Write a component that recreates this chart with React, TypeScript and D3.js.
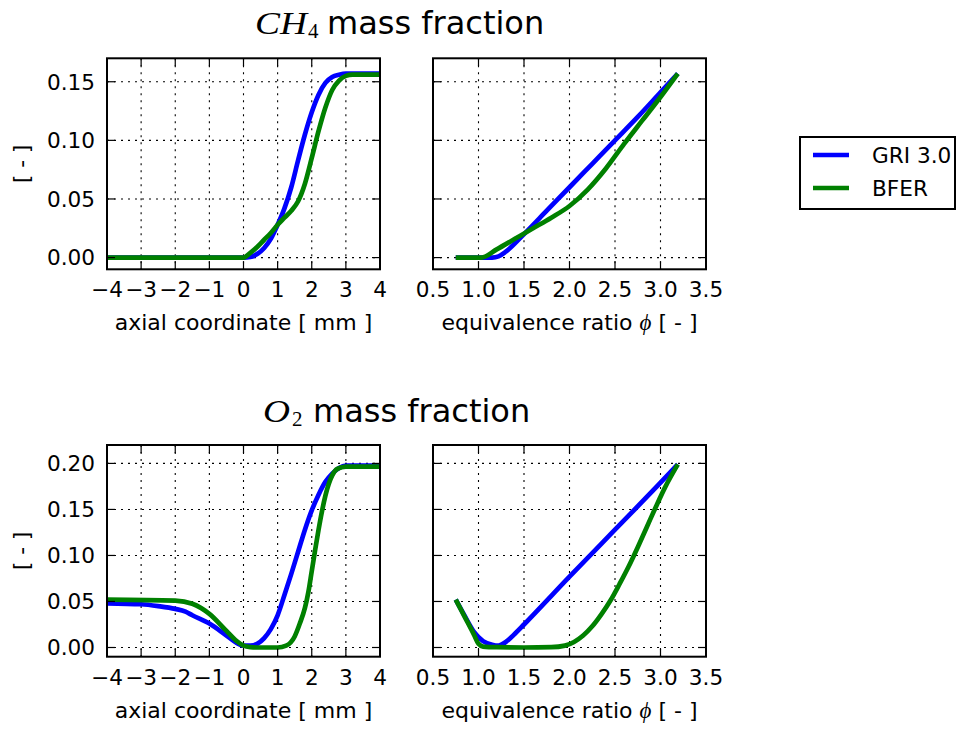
import React from "react";
import * as d3 from "d3";

// ---------- data ----------
const seriesNames = ["GRI 3.0", "BFER"];
const seriesColors = ["#0000ff", "#008000"];

const axialTicks = [-4, -3, -2, -1, 0, 1, 2, 3, 4];
const phiTicks = [0.5, 1.0, 1.5, 2.0, 2.5, 3.0, 3.5];
const ch4YTicks = [0, 0.05, 0.1, 0.15];
const o2YTicks = [0, 0.05, 0.1, 0.15, 0.2];

// CH4 vs axial coordinate
const ch4AxialX = [-4, -2, 0, 0.2, 0.4, 0.6, 0.8, 1.0, 1.2, 1.4, 1.6, 1.8, 2.0, 2.2, 2.4, 2.6, 2.8, 3.0, 3.2, 4];
const ch4AxialGri = [0, 0, 0, 0.0005, 0.003, 0.008, 0.016, 0.028, 0.042, 0.06, 0.083, 0.105, 0.124, 0.139, 0.149, 0.154, 0.156, 0.157, 0.157, 0.157];
const ch4AxialBfer = [0, 0, 0, 0.004, 0.009, 0.015, 0.021, 0.028, 0.034, 0.040, 0.048, 0.063, 0.085, 0.108, 0.128, 0.143, 0.151, 0.155, 0.156, 0.156];

// CH4 vs equivalence ratio
const ch4PhiGriX = [0.75, 1.0, 1.15, 1.22, 1.3, 1.5, 1.75, 2.0, 2.25, 2.5, 2.75, 3.0, 3.19];
const ch4PhiGri = [0, 0, 0, 0.001, 0.005, 0.02, 0.04, 0.06, 0.08, 0.1, 0.12, 0.141, 0.157];
const ch4PhiBferX = [0.75, 1.03, 1.2, 1.4, 1.6, 1.8, 2.0, 2.2, 2.4, 2.6, 2.8, 3.0, 3.19];
const ch4PhiBfer = [0, 0, 0.007, 0.016, 0.025, 0.034, 0.044, 0.058, 0.076, 0.097, 0.117, 0.137, 0.157];

// O2 vs axial coordinate
const o2AxialGriX = [-4, -3, -2.5, -2, -1.7, -1.5, -1, -0.5, -0.2, 0, 0.2, 0.4, 0.6, 0.8, 1.0, 1.2, 1.4, 1.6, 1.8, 2.0, 2.2, 2.4, 2.6, 2.8, 3.0, 4];
const o2AxialGri = [0.048, 0.047, 0.045, 0.042, 0.039, 0.035, 0.026, 0.013, 0.005, 0.002, 0.002, 0.004, 0.01, 0.02, 0.035, 0.057, 0.08, 0.104, 0.128, 0.149, 0.166, 0.18, 0.189, 0.195, 0.1975, 0.1975];
const o2AxialBferX = [-4, -2, -1.5, -1, -0.5, -0.2, 0, 0.2, 0.5, 1.0, 1.25, 1.5, 1.65, 1.8, 1.9, 2.0, 2.1, 2.2, 2.3, 2.4, 2.5, 2.6, 2.75, 3.0, 4];
const o2AxialBfer = [0.052, 0.051, 0.0475, 0.0365, 0.018, 0.007, 0.002, 0.0005, 0, 0, 0.002, 0.012, 0.026, 0.043, 0.06, 0.083, 0.106, 0.128, 0.148, 0.165, 0.178, 0.187, 0.194, 0.1965, 0.1965];

// O2 vs equivalence ratio
const o2PhiGriX = [0.75, 0.85, 0.95, 1.05, 1.15, 1.22, 1.3, 1.4, 1.5, 2.0, 2.5, 3.0, 3.19];
const o2PhiGri = [0.052, 0.034, 0.017, 0.007, 0.003, 0.002, 0.006, 0.015, 0.025, 0.077, 0.128, 0.179, 0.199];
const o2PhiBferX = [0.75, 0.85, 0.95, 1.0, 1.05, 1.2, 1.5, 1.8, 1.95, 2.05, 2.15, 2.25, 2.35, 2.45, 2.55, 2.65, 2.75, 2.85, 2.95, 3.05, 3.19];
const o2PhiBfer = [0.052, 0.033, 0.014, 0.004, 0.001, 0.0003, 0, 0.0003, 0.002, 0.006, 0.013, 0.023, 0.036, 0.051, 0.069, 0.088, 0.109, 0.131, 0.153, 0.174, 0.199];

const SANS = "DejaVu Sans";
const SERIF = "Liberation Serif";
const FS = 21.6;

type Series = { x: number[]; y: number[] };

function fmtAxial(v: number) {
  return v < 0 ? "\u2212" + Math.abs(v) : String(v);
}

function Panel(props: {
  id: string;
  left: number; right: number; top: number; bottom: number;
  xDomain: [number, number]; yDomain: [number, number];
  xTicks: number[]; yTicks: number[];
  xFmt: (v: number) => string;
  showYLabels: boolean;
  xLabel: React.ReactNode;
  series: Series[];
}) {
  const { left, right, top, bottom } = props;
  const x = d3.scaleLinear().domain(props.xDomain).range([left, right]);
  const y = d3.scaleLinear().domain(props.yDomain).range([bottom, top]);
  const line = d3.line<[number, number]>().x((d) => x(d[0])).y((d) => y(d[1])).curve(d3.curveMonotoneX);
  const yFmt = d3.format(".2f");
  const tl = 8;
  return (
    <g>
      <defs>
        <clipPath id={props.id}>
          <rect x={left} y={top} width={right - left} height={bottom - top} />
        </clipPath>
      </defs>
      {props.xTicks.map((t) => (
        <line key={"gx" + t} x1={x(t)} x2={x(t)} y1={top} y2={bottom} stroke="#000" strokeWidth={1.1} strokeDasharray="2,5" />
      ))}
      {props.yTicks.map((t) => (
        <line key={"gy" + t} x1={left} x2={right} y1={y(t)} y2={y(t)} stroke="#000" strokeWidth={1.1} strokeDasharray="2,5" />
      ))}
      <g clipPath={`url(#${props.id})`}>
        {props.series.map((s, i) => (
          <path
            key={i}
            d={line(s.x.map((v, j) => [v, s.y[j]] as [number, number])) || ""}
            fill="none"
            stroke={seriesColors[i]}
            strokeWidth={4.7}
            strokeLinejoin="round"
          />
        ))}
      </g>
      {props.xTicks.map((t) => (
        <g key={"tx" + t}>
          <line x1={x(t)} x2={x(t)} y1={bottom} y2={bottom - tl} stroke="#000" strokeWidth={1.2} />
          <line x1={x(t)} x2={x(t)} y1={top} y2={top + tl} stroke="#000" strokeWidth={1.2} />
          <text x={x(t)} y={bottom + 28} textAnchor="middle" fontFamily={SANS} fontSize={FS}>
            {props.xFmt(t)}
          </text>
        </g>
      ))}
      {props.yTicks.map((t) => (
        <g key={"ty" + t}>
          <line x1={left} x2={left + tl} y1={y(t)} y2={y(t)} stroke="#000" strokeWidth={1.2} />
          <line x1={right} x2={right - tl} y1={y(t)} y2={y(t)} stroke="#000" strokeWidth={1.2} />
          {props.showYLabels && (
            <text x={left - 12} y={y(t) + 7.8} textAnchor="end" fontFamily={SANS} fontSize={FS}>
              {yFmt(t)}
            </text>
          )}
        </g>
      ))}
      <rect x={left} y={top} width={right - left} height={bottom - top} fill="none" stroke="#000" strokeWidth={2} />
      <text x={(left + right) / 2} y={bottom + 61} textAnchor="middle" fontFamily={SANS} fontSize={22}>
        {props.xLabel}
      </text>
    </g>
  );
}

const phiLabel = (
  <>
    <tspan>equivalence ratio </tspan>
    <tspan fontFamily={SERIF} fontStyle="italic" fontSize={23}>ϕ</tspan>
    <tspan> [ - ]</tspan>
  </>
);

export default function App() {
  const L1 = 107, R1 = 380, L2 = 433, R2 = 706;
  const T1 = 58.3, B1 = 269.3, T2 = 445, B2 = 656.7;
  return (
    <div style={{ position: "absolute", left: 0, top: 0 }}>
      <svg width={956} height={729} style={{ display: "block", background: "#fff" }}>
        {/* titles */}
        <text x={255} y={33.5} fontFamily={SERIF} fontStyle="italic" fontSize={31} textLength={52} lengthAdjust="spacingAndGlyphs">CH</text>
        <text x={308} y={37.5} fontFamily={SERIF} fontSize={21}>4</text>
        <text x={327} y={33.5} fontFamily={SANS} fontSize={32}>mass fraction</text>

        <text x={263} y={421.5} fontFamily={SERIF} fontStyle="italic" fontSize={31} textLength={27} lengthAdjust="spacingAndGlyphs">O</text>
        <text x={292} y={425.5} fontFamily={SERIF} fontSize={21}>2</text>
        <text x={313} y={421.5} fontFamily={SANS} fontSize={32}>mass fraction</text>

        {/* y labels */}
        <text transform={`translate(29,${(T1 + B1) / 2}) rotate(-90)`} textAnchor="middle" fontFamily={SANS} fontSize={FS}>[ - ]</text>
        <text transform={`translate(29,${(T2 + B2) / 2}) rotate(-90)`} textAnchor="middle" fontFamily={SANS} fontSize={FS}>[ - ]</text>

        <Panel id="c1" left={L1} right={R1} top={T1} bottom={B1}
          xDomain={[-4, 4]} yDomain={[-0.01, 0.17]} xTicks={axialTicks} yTicks={ch4YTicks}
          xFmt={fmtAxial} showYLabels={true} xLabel="axial coordinate [ mm ]"
          series={[{ x: ch4AxialX, y: ch4AxialGri }, { x: ch4AxialX, y: ch4AxialBfer }]} />
        <Panel id="c2" left={L2} right={R2} top={T1} bottom={B1}
          xDomain={[0.5, 3.5]} yDomain={[-0.01, 0.17]} xTicks={phiTicks} yTicks={ch4YTicks}
          xFmt={(v) => v.toFixed(1)} showYLabels={false} xLabel={phiLabel}
          series={[{ x: ch4PhiGriX, y: ch4PhiGri }, { x: ch4PhiBferX, y: ch4PhiBfer }]} />
        <Panel id="c3" left={L1} right={R1} top={T2} bottom={B2}
          xDomain={[-4, 4]} yDomain={[-0.01, 0.22]} xTicks={axialTicks} yTicks={o2YTicks}
          xFmt={fmtAxial} showYLabels={true} xLabel="axial coordinate [ mm ]"
          series={[{ x: o2AxialGriX, y: o2AxialGri }, { x: o2AxialBferX, y: o2AxialBfer }]} />
        <Panel id="c4" left={L2} right={R2} top={T2} bottom={B2}
          xDomain={[0.5, 3.5]} yDomain={[-0.01, 0.22]} xTicks={phiTicks} yTicks={o2YTicks}
          xFmt={(v) => v.toFixed(1)} showYLabels={false} xLabel={phiLabel}
          series={[{ x: o2PhiGriX, y: o2PhiGri }, { x: o2PhiBferX, y: o2PhiBfer }]} />

        {/* legend */}
        <rect x={800} y={137} width={155} height={72} fill="#fff" stroke="#000" strokeWidth={2} />
        {seriesNames.map((n, i) => (
          <g key={n}>
            <line x1={813} x2={849} y1={155 + i * 33} y2={155 + i * 33} stroke={seriesColors[i]} strokeWidth={4.7} />
            <text x={872} y={163 + i * 33} fontFamily={SANS} fontSize={FS}>{n}</text>
          </g>
        ))}
      </svg>
    </div>
  );
}
